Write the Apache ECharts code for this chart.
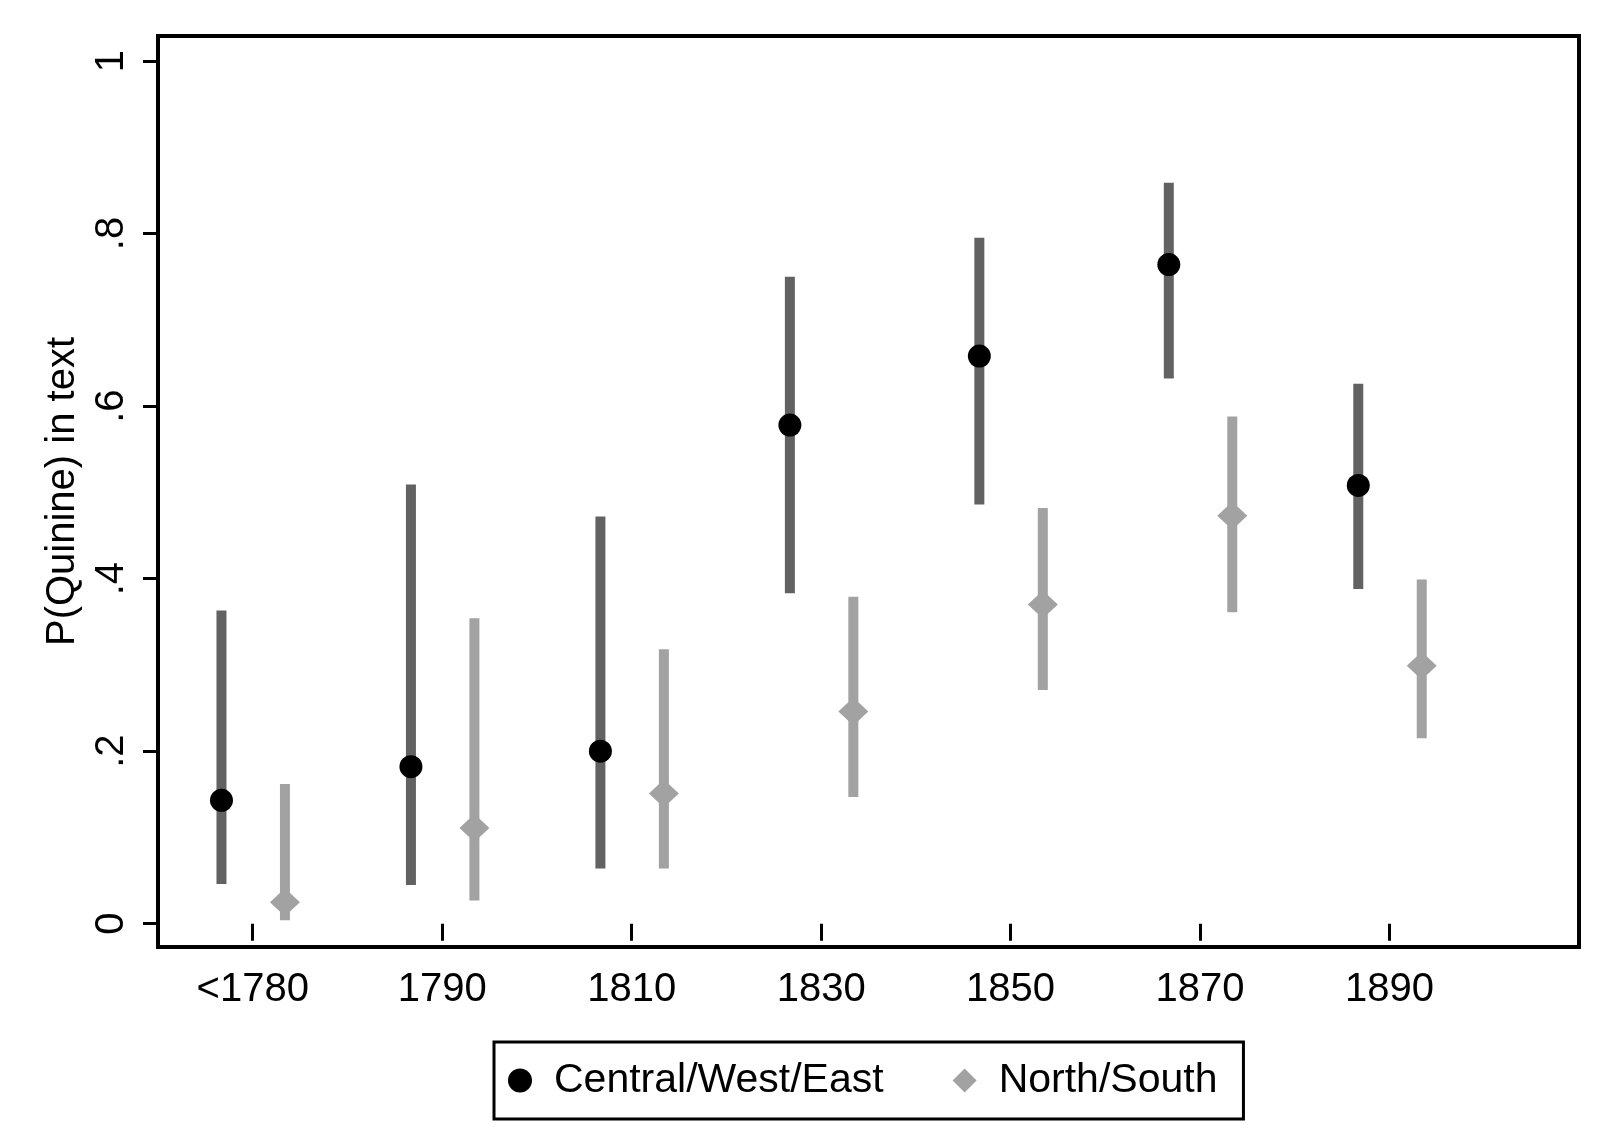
<!DOCTYPE html>
<html>
<head>
<meta charset="utf-8">
<title>P(Quinine) in text</title>
<script src="https://cdn.jsdelivr.net/npm/echarts@6/dist/echarts.min.js"></script>
<style>
  html, body { margin: 0; padding: 0; background: #fff; }
  #main { width: 1600px; height: 1147px; }
</style>
</head>
<body>
<div id="main"></div>
<script>
// periods on the x axis
const years = [1770, 1790, 1810, 1830, 1850, 1870, 1890]
const yearLabels = ['<1780', '1790', '1810', '1830', '1850', '1870', '1890']
const yTicks = [0, 0.2, 0.4, 0.6, 0.8, 1]

// Central/West/East: point estimate and confidence bounds
const cweMean = [0.143, 0.182, 0.200, 0.578, 0.658, 0.764, 0.508]
const cweLow = [0.046, 0.045, 0.064, 0.383, 0.486, 0.632, 0.388]
const cweHigh = [0.363, 0.509, 0.472, 0.750, 0.795, 0.859, 0.626]

// North/South
const nsMean = [0.025, 0.111, 0.151, 0.246, 0.370, 0.473, 0.299]
const nsLow = [0.004, 0.027, 0.064, 0.147, 0.271, 0.361, 0.215]
const nsHigh = [0.162, 0.354, 0.318, 0.379, 0.482, 0.588, 0.399]

const font = 'Liberation Sans, Arial, sans-serif'
const darkBar = '#626262'
const lightGrey = '#a2a2a2'

let chart = echarts.init(document.getElementById('main'))

function ciSeries (offset, low, high, color) {
  return {
    type: 'custom',
    silent: true,
    data: years.map((y, i) => [y + offset, low[i], high[i]]),
    renderItem: function (params, api) {
      let top = api.coord([api.value(0), api.value(2)])
      let bot = api.coord([api.value(0), api.value(1)])
      return {
        type: 'rect',
        shape: { x: top[0] - 5, y: top[1], width: 10, height: bot[1] - top[1] },
        style: { fill: color }
      }
    },
    z: 2
  }
}

let option = {
  backgroundColor: '#fff',
  animation: false,
  grid: {
    left: 158,
    right: 21,
    top: 36,
    bottom: 200,
    show: true,
    borderColor: '#000',
    borderWidth: 4,
    backgroundColor: 'transparent'
  },
  xAxis: {
    type: 'value',
    min: 1760,
    max: 1910,
    splitLine: { show: false },
    axisLine: { show: false },
    axisTick: {
      show: true,
      customValues: years,
      length: 17,
      lineStyle: { color: '#000', width: 3 }
    },
    axisLabel: {
      customValues: years,
      margin: 23,
      color: '#000',
      fontFamily: font,
      fontSize: 40,
      formatter: function (v) {
        return yearLabels[years.indexOf(v)]
      }
    }
  },
  yAxis: {
    type: 'value',
    min: -0.027,
    max: 1.029,
    name: 'P(Quinine) in text',
    nameLocation: 'middle',
    nameGap: 75,
    nameRotate: 90,
    nameTextStyle: { color: '#000', fontFamily: font, fontSize: 40 },
    splitLine: { show: false },
    axisLine: { show: false },
    axisTick: {
      show: true,
      customValues: yTicks,
      length: 15,
      lineStyle: { color: '#000', width: 3 }
    },
    axisLabel: {
      customValues: yTicks,
      rotate: 90,
      margin: 26,
      color: '#000',
      fontFamily: font,
      fontSize: 40,
      formatter: function (v) {
        if (v === 0 || v === 1) return String(v)
        return String(v.toFixed(1)).replace(/^0/, '')
      }
    }
  },
  legend: {
    left: 494,
    top: 1042,
    orient: 'horizontal',
    borderColor: '#000',
    borderWidth: 3,
    padding: [18, 26, 18, 14],
    itemGap: 69,
    itemWidth: 24,
    itemHeight: 24,
    symbolKeepAspect: true,
    textStyle: { color: '#000', fontFamily: font, fontSize: 41, padding: [0, 0, 0, 17] },
    data: [
      { name: 'Central/West/East', icon: 'circle' },
      { name: 'North/South', icon: 'diamond' }
    ]
  },
  series: [
    ciSeries(-3.3, cweLow, cweHigh, darkBar),
    ciSeries(3.4, nsLow, nsHigh, lightGrey),
    {
      name: 'Central/West/East',
      type: 'scatter',
      symbol: 'circle',
      symbolSize: 23,
      itemStyle: { color: '#000', opacity: 1 },
      data: years.map((y, i) => [y - 3.3, cweMean[i]]),
      z: 3
    },
    {
      name: 'North/South',
      type: 'scatter',
      symbol: 'diamond',
      symbolSize: [30, 28],
      itemStyle: { color: lightGrey, opacity: 1 },
      data: years.map((y, i) => [y + 3.4, nsMean[i]]),
      z: 3
    }
  ]
}

chart.setOption(option)
window.addEventListener('resize', function () {
  chart.resize()
})
</script>
</body>
</html>
